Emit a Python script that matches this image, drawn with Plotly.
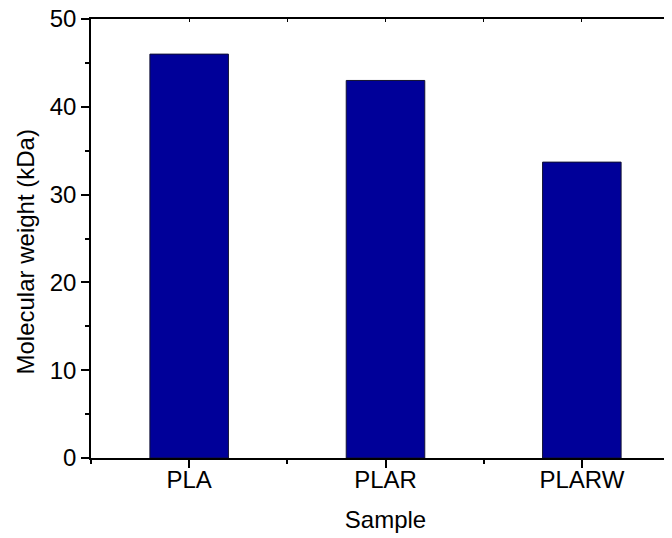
import plotly.graph_objects as go

samples = ["PLA", "PLAR", "PLARW"]
mol_weight = [46.0, 43.0, 33.7]
positions = [0, 1, 2]

FONT = "Liberation Sans, Arial, sans-serif"

fig = go.Figure()
fig.add_trace(go.Bar(
    x=positions, y=mol_weight, width=0.4,
    marker=dict(color="#000099", line=dict(color="#111133", width=1)),
    showlegend=False,
))
# invisible trace to keep the top mirror axis alive
fig.add_trace(go.Scatter(x=[None], y=[None], xaxis="x2", showlegend=False, hoverinfo="skip"))

fig.update_layout(
    width=672, height=538,
    margin=dict(l=83, r=0, t=11, b=88),
    paper_bgcolor="white", plot_bgcolor="white",
    font=dict(family=FONT, size=24, color="black"),
    xaxis=dict(
        range=[-0.5, 2.5], automargin=False,
        tickmode="array", tickvals=positions, ticktext=samples,
        ticks="outside", ticklen=8, tickwidth=1.5, tickcolor="black",
        minor=dict(tickmode="array", tickvals=[-0.5, 0.5, 1.5], ticks="outside",
                   ticklen=4, tickwidth=1.5, tickcolor="black", showgrid=False),
        showline=True, linecolor="black", linewidth=1.5,
        showgrid=False, zeroline=False,
        title=dict(text="Sample", font=dict(size=24), standoff=20),
        tickfont=dict(size=24),
        ticklabelstandoff=-9,
    ),
    xaxis2=dict(
        overlaying="x", side="top", range=[-0.5, 2.5], automargin=False,
        tickmode="array", tickvals=[-0.5, 0, 0.5, 1, 1.5, 2],
        ticks="inside", ticklen=3, tickwidth=1, tickcolor="black",
        showticklabels=False, showline=True, linecolor="black", linewidth=1.5,
        showgrid=False, zeroline=False,
    ),
    yaxis=dict(
        range=[0, 50], dtick=10, tick0=0, automargin=False,
        ticks="outside", ticklen=8, tickwidth=1.5, tickcolor="black",
        minor=dict(dtick=5, tick0=0, ticks="outside", ticklen=4, tickwidth=1.5,
                   tickcolor="black", showgrid=False),
        showline=True, linecolor="black", linewidth=1.5,
        showgrid=False, zeroline=False,
        tickfont=dict(size=24),
        ticklabeloverflow="allow",
    ),
    annotations=[dict(
        text="Molecular weight (kDa)", textangle=-90,
        xref="paper", yref="paper", x=0, y=0.5,
        xanchor="center", yanchor="middle",
        xshift=-66, yshift=-14, showarrow=False,
        font=dict(family=FONT, size=24, color="black"),
    )],
)

fig.write_html("out.html")
